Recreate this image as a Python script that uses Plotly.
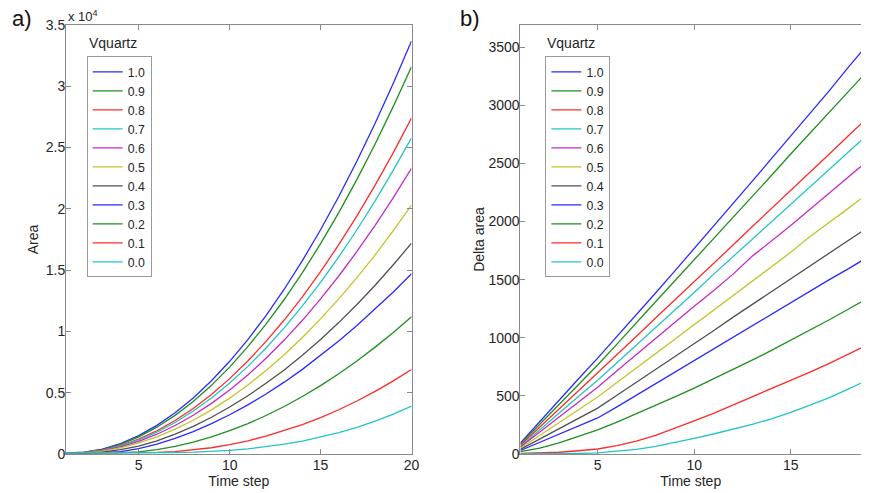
import plotly.graph_objects as go

time_steps = list(range(1, 21))
vquartz = ["1.0", "0.9", "0.8", "0.7", "0.6", "0.5", "0.4", "0.3", "0.2", "0.1", "0.0"]
colors = ["#2a2aff", "#1f8f1f", "#ff2a2a", "#22c4c4", "#c42ac4", "#c4c42a", "#505050",
          "#2a2aff", "#1f8f1f", "#ff2a2a", "#22c4c4"]

# Panel a) Area
area_10 = [80, 150, 390, 840, 1494, 2334, 3361, 4574, 5975, 7562, 9335, 11296, 13443, 15776, 18297, 21004, 23898, 26979, 30246, 33700]
area_09 = [80, 140, 360, 788, 1400, 2188, 3151, 4289, 5602, 7090, 8754, 10592, 12605, 14793, 17157, 19695, 22409, 25297, 28361, 31600]
area_08 = [80, 130, 320, 683, 1214, 1897, 2732, 3719, 4858, 6148, 7590, 9184, 10930, 12827, 14877, 17078, 19430, 21935, 24592, 27400]
area_07 = [80, 125, 300, 643, 1143, 1787, 2573, 3502, 4574, 5789, 7147, 8648, 10291, 12078, 14008, 16080, 18296, 20654, 23156, 25800]
area_06 = [80, 120, 270, 581, 1033, 1614, 2323, 3163, 4131, 5228, 6454, 7810, 9294, 10908, 12650, 14522, 16523, 18653, 20912, 23300]
area_05 = [80, 115, 240, 506, 900, 1406, 2024, 2755, 3599, 4555, 5623, 6804, 8097, 9503, 11022, 12652, 14396, 16251, 18219, 20300]
area_04 = [80, 110, 150, 350, 650, 1080, 1620, 2260, 3000, 3830, 4750, 5765, 6861, 8052, 9339, 10720, 12197, 13769, 15437, 17200]
area_03 = [80, 85, 120, 200, 443, 812, 1275, 1830, 2473, 3205, 4007, 4895, 5861, 6905, 8026, 9214, 10478, 11814, 13221, 14700]
area_02 = [80, 80, 90, 120, 170, 349, 620, 969, 1395, 1899, 2480, 3139, 3875, 4689, 5580, 6549, 7595, 8719, 9920, 11200]
area_01 = [80, 80, 80, 85, 110, 140, 190, 320, 510, 760, 1074, 1450, 1891, 2396, 2970, 3612, 4325, 5110, 5967, 6900]
area_00 = [80, 80, 80, 80, 85, 105, 120, 150, 200, 300, 420, 590, 800, 1057, 1372, 1744, 2178, 2679, 3251, 3900]

# Panel b) Delta area
delta_10 = [95, 280, 460, 645, 825, 1010, 1195, 1385, 1575, 1765, 1955, 2150, 2345, 2540, 2735, 2930, 3125, 3330, 3525, 3720]
delta_09 = [85, 255, 425, 595, 765, 945, 1130, 1310, 1490, 1670, 1855, 2035, 2215, 2395, 2580, 2760, 2940, 3120, 3300, 3480]
delta_08 = [75, 230, 385, 540, 695, 855, 1010, 1170, 1325, 1480, 1640, 1795, 1955, 2110, 2265, 2425, 2580, 2740, 2895, 3050]
delta_07 = [65, 210, 350, 495, 635, 785, 940, 1090, 1240, 1390, 1545, 1695, 1845, 1995, 2145, 2300, 2450, 2600, 2750, 2900]
delta_06 = [60, 190, 320, 450, 575, 715, 855, 990, 1130, 1270, 1405, 1545, 1700, 1830, 1965, 2105, 2245, 2385, 2525, 2665]
delta_05 = [50, 160, 270, 380, 490, 615, 740, 865, 990, 1115, 1240, 1360, 1490, 1615, 1735, 1870, 1990, 2115, 2240, 2365]
delta_04 = [40, 130, 220, 310, 395, 505, 615, 730, 840, 950, 1060, 1175, 1285, 1395, 1505, 1615, 1730, 1840, 1950, 2060]
delta_03 = [30, 100, 170, 240, 310, 405, 505, 605, 705, 805, 905, 1000, 1100, 1200, 1300, 1400, 1500, 1595, 1695, 1795]
delta_02 = [20, 50, 95, 150, 207, 275, 345, 417, 491, 567, 645, 725, 807, 891, 977, 1065, 1155, 1247, 1341, 1437]
delta_01 = [5, 8, 15, 28, 43, 72, 110, 160, 220, 285, 350, 420, 490, 560, 630, 705, 780, 860, 940, 1020]
delta_00 = [0, 0, 2, 5, 10, 22, 40, 65, 97, 135, 172, 212, 255, 303, 358, 420, 485, 560, 635, 715]

area_series = [area_10, area_09, area_08, area_07, area_06, area_05, area_04, area_03, area_02, area_01, area_00]
delta_series = [delta_10, delta_09, delta_08, delta_07, delta_06, delta_05, delta_04, delta_03, delta_02, delta_01, delta_00]

a_ticks = [0, 5000, 10000, 15000, 20000, 25000, 30000, 35000]
a_ticktext = ["0", "0.5", "1", "1.5", "2", "2.5", "3", "3.5"]
b_ticks = [0, 500, 1000, 1500, 2000, 2500, 3000, 3500]
x_ticks = [5, 10, 15, 20]

FONT = "Liberation Sans, Arial, sans-serif"
TXT = "#262626"
AX = "#8a8a8a"

fig = go.Figure()
for name, col, ys in zip(vquartz, colors, area_series):
    fig.add_trace(go.Scatter(x=time_steps, y=ys, mode="lines", name=name,
                             line=dict(color=col, width=1.3), xaxis="x", yaxis="y",
                             legend="legend"))
for name, col, ys in zip(vquartz, colors, delta_series):
    fig.add_trace(go.Scatter(x=time_steps, y=ys, mode="lines", name=name,
                             line=dict(color=col, width=1.3), xaxis="x2", yaxis="y2",
                             legend="legend2"))

axis_common = dict(showline=True, linecolor=AX, linewidth=1, ticks="inside", ticklen=5,
                   tickcolor=AX, showgrid=False, zeroline=False,
                   tickfont=dict(family=FONT, size=14, color=TXT))
title_font = dict(family=FONT, size=14, color=TXT)

legend_common = dict(bgcolor="white", bordercolor="#9a9a9a", borderwidth=1,
                     font=dict(family=FONT, size=12.3, color=TXT),
                     xanchor="left", yanchor="top", itemwidth=30, tracegroupgap=0)

fig.update_layout(
    width=869, height=493,
    margin=dict(l=66, r=0, t=25, b=39),
    paper_bgcolor="white", plot_bgcolor="white",
    xaxis=dict(domain=[0, 0.4346], range=[1, 20], tickvals=x_ticks, mirror="ticks",
               ticklabelstandoff=-2,
               title=dict(text="Time step", standoff=2, font=title_font),
               anchor="y", **axis_common),
    yaxis=dict(range=[0, 35000], tickvals=a_ticks, ticktext=a_ticktext, mirror="ticks",
               ticklabelstandoff=-3,
               title=dict(text="Area", standoff=3, font=title_font),
               anchor="x", **axis_common),
    xaxis2=dict(domain=[0.5716, 1], range=[1, 18.64], tickvals=x_ticks, mirror="ticks",
                ticklabelstandoff=-2,
                title=dict(text="Time step", standoff=2, font=title_font),
                anchor="y2", **axis_common),
    yaxis2=dict(range=[0, 3690], tickvals=b_ticks, mirror=False,
                ticklabelstandoff=-3,
                title=dict(text="Delta area", standoff=0, font=title_font),
                anchor="x2", **axis_common),
    legend=dict(x=0.026, y=0.927, **legend_common),
    legend2=dict(x=0.603, y=0.927, **legend_common),
    showlegend=True,
)

fig.add_annotation(text="x 10<sup>4</sup>", xref="paper", yref="paper", x=0.0, y=1.0,
                   xanchor="left", yanchor="bottom", showarrow=False, yshift=-1,
                   font=dict(family=FONT, size=13, color=TXT))
fig.add_annotation(text="Vquartz", xref="paper", yref="paper", x=0.027, y=0.957,
                   xanchor="left", yanchor="middle", showarrow=False,
                   font=dict(family=FONT, size=14, color=TXT))
fig.add_annotation(text="Vquartz", xref="paper", yref="paper", x=0.602, y=0.957,
                   xanchor="left", yanchor="middle", showarrow=False,
                   font=dict(family=FONT, size=14, color=TXT))
fig.add_annotation(text="a)", xref="paper", yref="paper", x=-0.0548, y=1.0,
                   xanchor="center", yanchor="bottom", showarrow=False, yshift=-8,
                   font=dict(family=FONT, size=22, color="#111111"))
fig.add_annotation(text="b)", xref="paper", yref="paper", x=0.508, y=1.0,
                   xanchor="center", yanchor="bottom", showarrow=False, yshift=-8,
                   font=dict(family=FONT, size=22, color="#111111"))

fig.write_html("out.html", config={"displayModeBar": False},
               post_script="document.body.style.margin='0';")
